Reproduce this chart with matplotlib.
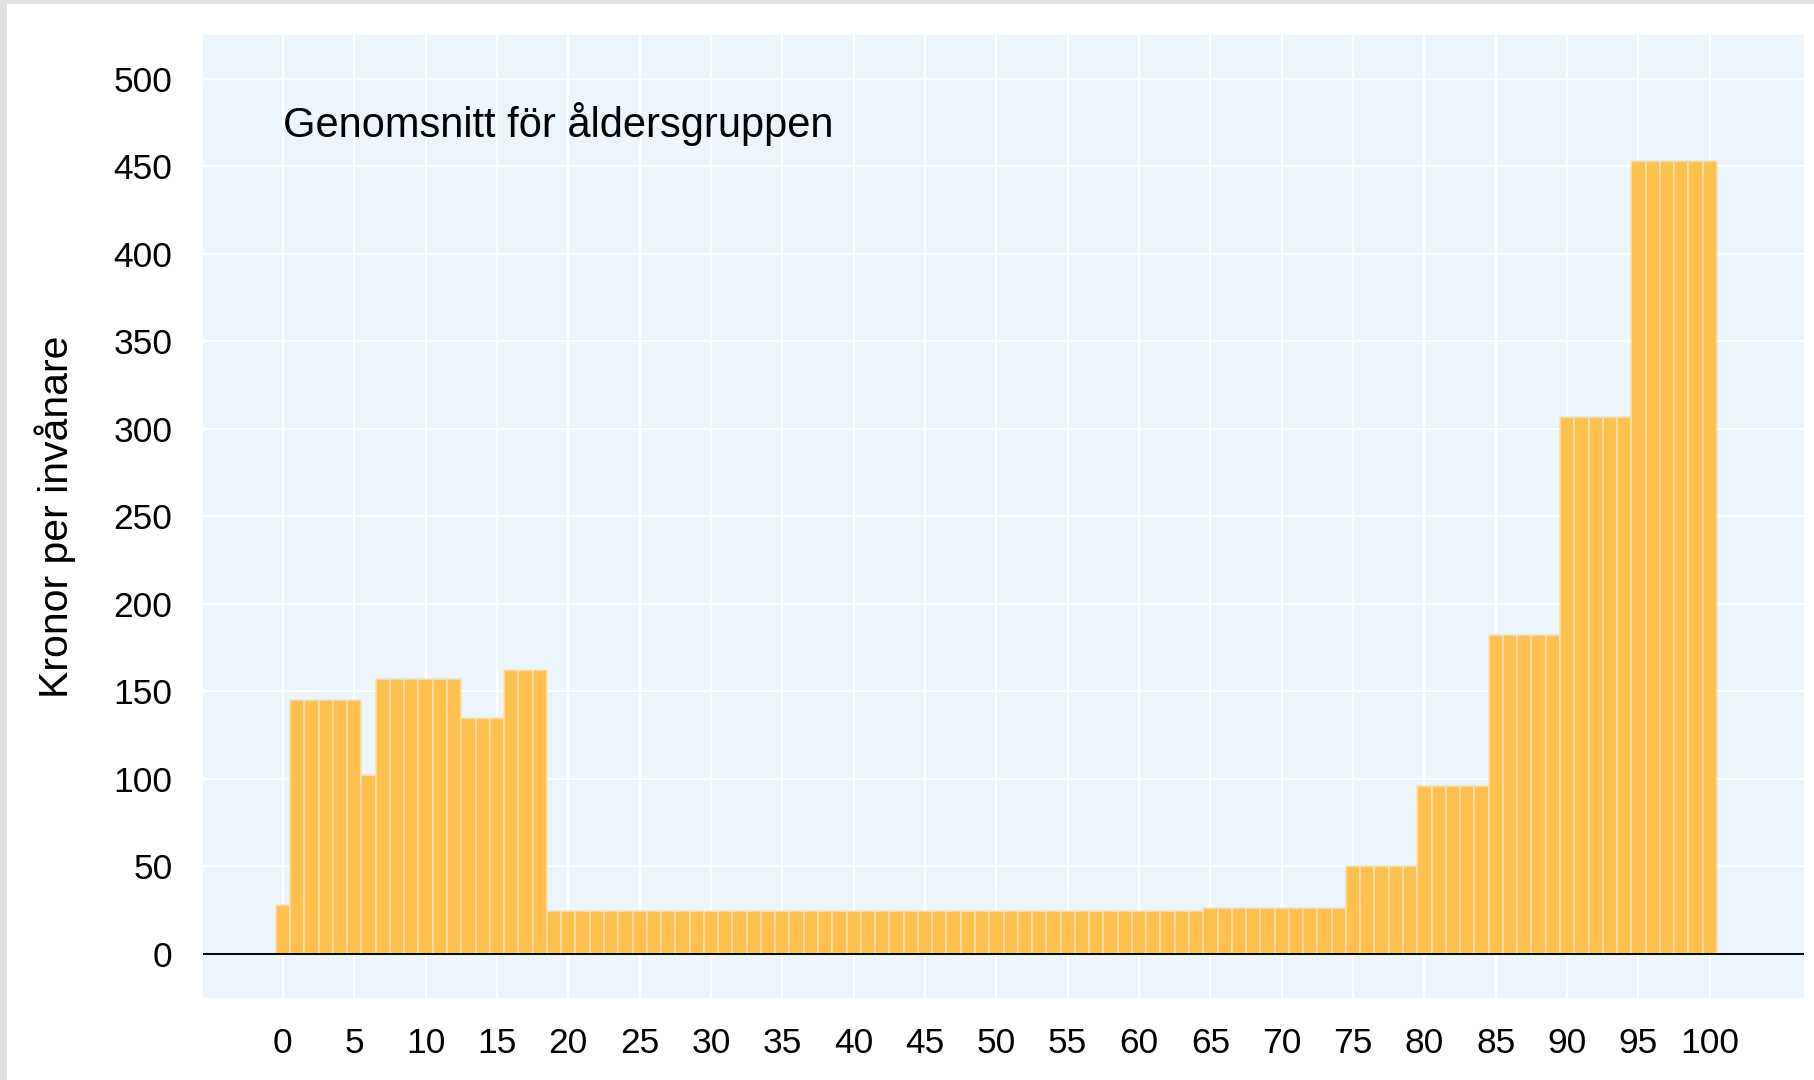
import matplotlib
matplotlib.use("Agg")
import matplotlib.pyplot as plt
from matplotlib.patches import Rectangle

plt.rcParams["font.family"] = ["Liberation Sans", "DejaVu Sans"]

# Cost per inhabitant (kronor) by age group
group_starts = [0, 1, 6, 7, 13, 16, 19, 65, 75, 80, 85, 90, 95]
group_ends = [0, 5, 6, 12, 15, 18, 64, 74, 79, 84, 89, 94, 100]
group_values = [28, 145, 102, 157, 135, 162, 24.5, 26, 50, 96, 182, 307, 453]

ages = []
values = []
for s, e, v in zip(group_starts, group_ends, group_values):
    for a in range(s, e + 1):
        ages.append(a)
        values.append(v)

x_ticks = list(range(0, 101, 5))
y_ticks = list(range(0, 501, 50))

BAR = "#FEC04E"
BAR_EDGE = "#FCE3B2"
BG = "#ECF4FC"

fig = plt.figure(figsize=(18.14, 10.8), dpi=100)
fig.patch.set_facecolor("white")

# grey frame on top and left edge
fig.patches.append(Rectangle((0, 0), 7 / 1814, 1, transform=fig.transFigure,
                             facecolor="#E0E0E0", edgecolor="none", zorder=0))
fig.patches.append(Rectangle((0, 1 - 4 / 1080), 1, 4 / 1080, transform=fig.transFigure,
                             facecolor="#E0E0E0", edgecolor="none", zorder=0))

ax = fig.add_axes([203 / 1814, 1 - 997.7 / 1080, (1804 - 203) / 1814, (997.7 - 35) / 1080])
ax.set_facecolor(BG)

for xt in x_ticks:
    ax.axvline(xt, color="white", lw=1.6, zorder=1)
for yt in y_ticks:
    ax.axhline(yt, color="white", lw=1.6, zorder=1)

ax.bar(ages, values, width=1.0, color=BAR, edgecolor=BAR_EDGE, linewidth=1.1, zorder=2)
ax.axhline(0, color="black", lw=1.4, zorder=3)

ax.set_xlim(-5.6, 106.6)
ax.set_ylim(-25, 525)
ax.set_xticks(x_ticks)
ax.set_yticks(y_ticks)
ax.tick_params(axis="both", length=0, labelsize=25.5)
ax.tick_params(axis="x", pad=21)
ax.tick_params(axis="y", pad=22)
for sp in ax.spines.values():
    sp.set_visible(False)

ax.set_ylabel("Kronor per invånare", fontsize=29.5, labelpad=27)

ax.text(0, 474, "Genomsnitt för åldersgruppen", fontsize=30, ha="left", va="center",
        zorder=4)

fig.savefig("out.png", dpi=100)
